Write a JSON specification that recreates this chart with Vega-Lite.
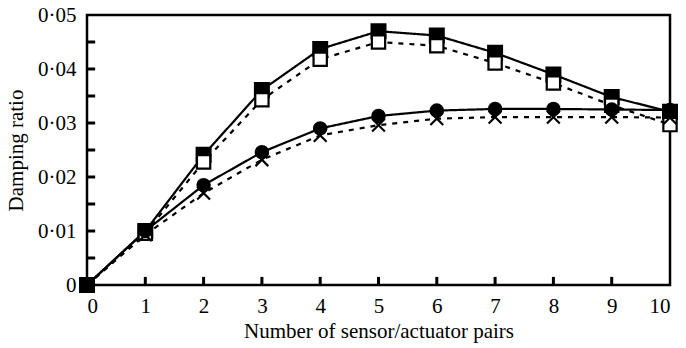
{
  "$schema": "https://vega.github.io/schema/vega-lite/v6.json",
  "width": 583,
  "height": 270,
  "autosize": "none",
  "padding": {"left": 87, "top": 15, "right": 16, "bottom": 63},
  "background": "white",
  "config": {
    "font": "Liberation Serif",
    "view": {"stroke": "black", "strokeWidth": 2.5}
  },
  "datasets": {
    "damping": [
      {"n": 0, "ratio": 0, "series": "A"},
      {"n": 1, "ratio": 0.0100, "series": "A"},
      {"n": 2, "ratio": 0.0241, "series": "A"},
      {"n": 3, "ratio": 0.0361, "series": "A"},
      {"n": 4, "ratio": 0.0437, "series": "A"},
      {"n": 5, "ratio": 0.0470, "series": "A"},
      {"n": 6, "ratio": 0.0462, "series": "A"},
      {"n": 7, "ratio": 0.0430, "series": "A"},
      {"n": 8, "ratio": 0.0390, "series": "A"},
      {"n": 9, "ratio": 0.0348, "series": "A"},
      {"n": 10, "ratio": 0.0321, "series": "A"},
      {"n": 0, "ratio": 0, "series": "B"},
      {"n": 1, "ratio": 0.0096, "series": "B"},
      {"n": 2, "ratio": 0.0228, "series": "B"},
      {"n": 3, "ratio": 0.0343, "series": "B"},
      {"n": 4, "ratio": 0.0418, "series": "B"},
      {"n": 5, "ratio": 0.0450, "series": "B"},
      {"n": 6, "ratio": 0.0443, "series": "B"},
      {"n": 7, "ratio": 0.0411, "series": "B"},
      {"n": 8, "ratio": 0.0374, "series": "B"},
      {"n": 9, "ratio": 0.0333, "series": "B"},
      {"n": 10, "ratio": 0.0297, "series": "B"},
      {"n": 0, "ratio": 0, "series": "C"},
      {"n": 1, "ratio": 0.0093, "series": "C"},
      {"n": 2, "ratio": 0.0170, "series": "C"},
      {"n": 3, "ratio": 0.0232, "series": "C"},
      {"n": 4, "ratio": 0.0277, "series": "C"},
      {"n": 5, "ratio": 0.0296, "series": "C"},
      {"n": 6, "ratio": 0.0308, "series": "C"},
      {"n": 7, "ratio": 0.0311, "series": "C"},
      {"n": 8, "ratio": 0.0311, "series": "C"},
      {"n": 9, "ratio": 0.0311, "series": "C"},
      {"n": 10, "ratio": 0.0310, "series": "C"},
      {"n": 0, "ratio": 0, "series": "D"},
      {"n": 1, "ratio": 0.0100, "series": "D"},
      {"n": 2, "ratio": 0.0185, "series": "D"},
      {"n": 3, "ratio": 0.0246, "series": "D"},
      {"n": 4, "ratio": 0.0290, "series": "D"},
      {"n": 5, "ratio": 0.0313, "series": "D"},
      {"n": 6, "ratio": 0.0323, "series": "D"},
      {"n": 7, "ratio": 0.0326, "series": "D"},
      {"n": 8, "ratio": 0.0326, "series": "D"},
      {"n": 9, "ratio": 0.0325, "series": "D"},
      {"n": 10, "ratio": 0.0324, "series": "D"}
    ],
    "xticks": [
      {"n": 1}, {"n": 2}, {"n": 3}, {"n": 4}, {"n": 5},
      {"n": 6}, {"n": 7}, {"n": 8}, {"n": 9}
    ],
    "yticks": [
      {"ratio": 0.005}, {"ratio": 0.01}, {"ratio": 0.015}, {"ratio": 0.02},
      {"ratio": 0.025}, {"ratio": 0.03}, {"ratio": 0.035}, {"ratio": 0.04},
      {"ratio": 0.045}
    ]
  },
  "layer": [
    {
      "data": {"name": "damping"},
      "mark": {"type": "line", "color": "black", "strokeWidth": 2.2},
      "encoding": {
        "x": {
          "field": "n",
          "type": "quantitative",
          "scale": {"domain": [0, 10], "nice": false, "zero": false},
          "axis": {
            "title": "Number of sensor/actuator pairs",
            "tickCount": 10,
            "format": "d",
            "grid": false,
            "domain": false,
            "ticks": false,
            "labelFont": "Liberation Serif",
            "labelFontSize": 21,
            "labelColor": "black",
            "labelPadding": 10,
            "titleFont": "Liberation Serif",
            "titleFontSize": 21,
            "titleFontWeight": "normal",
            "titleColor": "black",
            "titlePadding": 4
          }
        },
        "y": {
          "field": "ratio",
          "type": "quantitative",
          "scale": {"domain": [0, 0.05], "nice": false},
          "axis": {
            "title": "Damping ratio",
            "tickCount": 5,
            "labelExpr": "datum.value == 0 ? '0' : replace(format(datum.value, '.2f'), '.', '·')",
            "grid": false,
            "domain": false,
            "ticks": false,
            "labelFont": "Liberation Serif",
            "labelFontSize": 21,
            "labelColor": "black",
            "labelPadding": 11,
            "titleFont": "Liberation Serif",
            "titleFontSize": 21,
            "titleFontWeight": "normal",
            "titleColor": "black",
            "titlePadding": 11
          }
        },
        "detail": {"field": "series"},
        "strokeDash": {
          "field": "series",
          "type": "nominal",
          "scale": {"domain": ["A", "B", "C", "D"], "range": [[1, 0], [5, 6], [5, 6], [1, 0]]},
          "legend": null
        }
      }
    },
    {
      "data": {"name": "xticks"},
      "mark": {"type": "rule", "color": "black", "strokeWidth": 3, "clip": false},
      "encoding": {
        "x": {"field": "n", "type": "quantitative"},
        "y": {"datum": 0},
        "y2": {"datum": 0.0015}
      }
    },
    {
      "data": {"name": "yticks"},
      "mark": {"type": "rule", "color": "black", "strokeWidth": 3, "clip": false},
      "encoding": {
        "y": {"field": "ratio", "type": "quantitative"},
        "x": {"datum": 0},
        "x2": {"datum": 0.14}
      }
    },
    {
      "data": {"name": "damping"},
      "mark": {"type": "point", "filled": true, "stroke": "black", "strokeWidth": 2.2, "opacity": 1},
      "encoding": {
        "x": {"field": "n", "type": "quantitative"},
        "y": {"field": "ratio", "type": "quantitative"},
        "shape": {
          "field": "series",
          "type": "nominal",
          "scale": {"domain": ["A", "B", "C", "D"], "range": ["square", "square", "M-1,-1L1,1M1,-1L-1,1", "circle"]},
          "legend": null
        },
        "fill": {
          "field": "series",
          "type": "nominal",
          "scale": {"domain": ["A", "B", "C", "D"], "range": ["black", "white", "black", "black"]},
          "legend": null
        },
        "size": {
          "field": "series",
          "type": "nominal",
          "scale": {"domain": ["A", "B", "C", "D"], "range": [190, 150, 180, 220]},
          "legend": null
        }
      }
    }
  ]
}
